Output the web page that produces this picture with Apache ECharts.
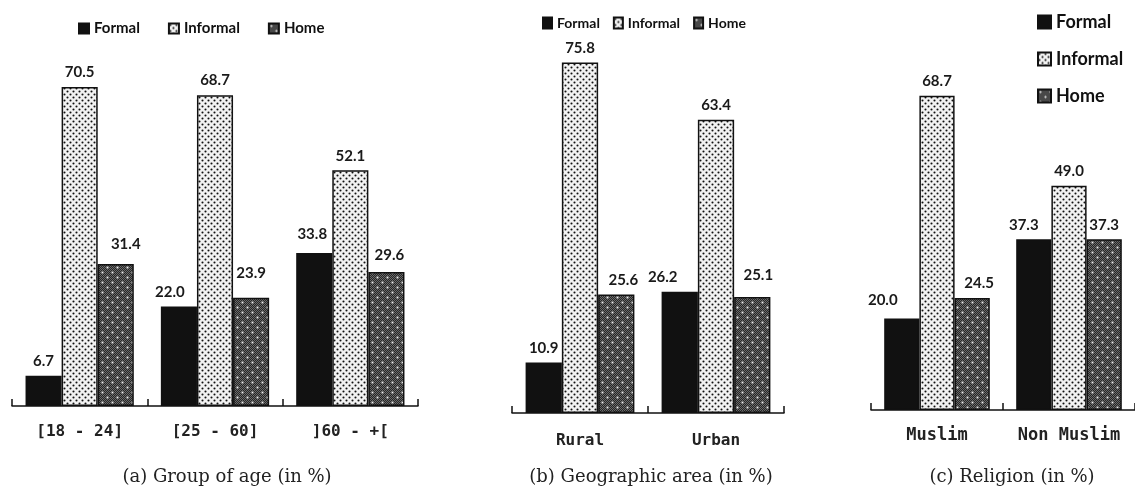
<!DOCTYPE html>
<html>
<head>
<meta charset="utf-8">
<title>Work type by group</title>
<script src="https://cdn.jsdelivr.net/npm/echarts@6/dist/echarts.min.js"></script>
<style>
  html, body { margin: 0; padding: 0; background: #fff; }
  #main { width: 1135px; height: 491px; }
</style>
</head>
<body>
<div id="main"></div>
<script>
// (a) group of age
const ageCats = ['[18 - 24]', '[25 - 60]', ']60 - +[']
const ageFormal = [6.7, 22.0, 33.8]
const ageInformal = [70.5, 68.7, 52.1]
const ageHome = [31.4, 23.9, 29.6]

// (b) geographic area
const areaCats = ['Rural', 'Urban']
const areaFormal = [10.9, 26.2]
const areaInformal = [75.8, 63.4]
const areaHome = [25.6, 25.1]

// (c) religion
const relCats = ['Muslim', 'Non Muslim']
const relFormal = [20.0, 37.3]
const relInformal = [68.7, 49.0]
const relHome = [24.5, 37.3]

const seriesNames = ['Formal', 'Informal', 'Home']
const captions = ['(a) Group of age (in %)', '(b) Geographic area (in %)', '(c) Religion (in %)']

// hand placed value labels in the original: panel-series-index -> [dx, dy]
const labelShift = {
  '0-2-0': [10, -5],
  '0-0-1': [-9, 0],
  '0-2-1': [0, -10],
  '0-0-2': [-2, -4],
  '0-2-2': [3, -2],
  '1-2-0': [7, 0],
  '1-0-1': [-17, 0],
  '1-2-1': [6, -7],
  '2-0-0': [-19, -4],
  '2-2-0': [7, 0],
  '2-0-1': [-10, 0]
}

// fill patterns like the old excel bars
function lightDots () {
  const c = document.createElement('canvas')
  c.width = 6
  c.height = 6
  const ctx = c.getContext('2d')
  ctx.fillStyle = '#f2f2f2'
  ctx.fillRect(0, 0, 6, 6)
  ctx.fillStyle = '#111'
  ctx.beginPath()
  ctx.arc(1.5, 1.5, 1.05, 0, Math.PI * 2)
  ctx.arc(4.5, 4.5, 1.05, 0, Math.PI * 2)
  ctx.fill()
  return c
}

function darkDots () {
  const c = document.createElement('canvas')
  c.width = 10
  c.height = 10
  const ctx = c.getContext('2d')
  for (let x = 0; x < 10; x++) {
    for (let y = 0; y < 10; y++) {
      ctx.fillStyle = (x + y) % 2 ? '#262626' : '#6a6a6a'
      ctx.fillRect(x, y, 1, 1)
    }
  }
  ctx.fillStyle = '#f4f4f4'
  ctx.beginPath()
  ctx.arc(2.5, 2.5, 1, 0, Math.PI * 2)
  ctx.arc(7.5, 7.5, 1, 0, Math.PI * 2)
  ctx.fill()
  return c
}

const fills = ['#111', { image: lightDots(), repeat: 'repeat' }, { image: darkDots(), repeat: 'repeat' }]

const panels = [
  { cats: ageCats, values: [ageFormal, ageInformal, ageHome], grid: { left: 12, width: 406, top: 44, height: 362 }, labelSize: 16, margin: 18, cx: 222 },
  { cats: areaCats, values: [areaFormal, areaInformal, areaHome], grid: { left: 512, width: 272, top: 43, height: 370 }, labelSize: 16, margin: 20, cx: 646 },
  { cats: relCats, values: [relFormal, relInformal, relHome], grid: { left: 871, width: 272, top: 44, height: 366 }, labelSize: 17, margin: 17, cx: 1007 }
]

const myChart = echarts.init(document.getElementById('main'))

const grid = []
const xAxis = []
const yAxis = []
const series = []
const title = []

panels.forEach((p, i) => {
  grid.push(p.grid)
  xAxis.push({
    type: 'category',
    gridIndex: i,
    data: p.cats,
    axisLine: { lineStyle: { color: '#111', width: 1.5 } },
    axisTick: { show: true, inside: true, alignWithLabel: false, interval: 0, length: 7, lineStyle: { color: '#111', width: 1.5 } },
    axisLabel: {
      interval: 0,
      showMinLabel: true,
      showMaxLabel: true,
      hideOverlap: false,
      margin: p.margin,
      color: '#222',
      fontFamily: 'DejaVu Sans Mono',
      fontWeight: 'bold',
      fontSize: p.labelSize
    }
  })
  yAxis.push({
    type: 'value',
    gridIndex: i,
    min: 0,
    max: 80,
    show: false
  })
  p.values.forEach((vals, k) => {
    series.push({
      name: seriesNames[k],
      type: 'bar',
      xAxisIndex: i,
      yAxisIndex: i,
      data: vals.map((v, j) => {
        const shift = labelShift[i + '-' + k + '-' + j]
        return shift ? { value: v, label: { offset: shift } } : v
      }),
      barGap: '0%',
      barCategoryGap: '20%',
      itemStyle: { color: fills[k], borderColor: '#111', borderWidth: 1.5 },
      label: {
        show: true,
        position: 'top',
        distance: 7,
        color: '#1a1a1a',
        fontFamily: 'Lato',
        fontWeight: 'bold',
        fontSize: 15,
        formatter: d => d.value.toFixed(1)
      }
    })
  })
  title.push({
    text: captions[i],
    left: p.cx,
    top: 463,
    textAlign: 'center',
    textStyle: { fontFamily: 'DejaVu Serif', fontWeight: 'normal', fontSize: 18, color: '#222' }
  })
})

const option = {
  animation: false,
  title: title,
  legend: [
    {
      data: seriesNames,
      icon: 'rect',
      left: 73,
      top: 16,
      itemWidth: 10,
      itemHeight: 10,
      itemGap: 28,
      textStyle: { fontFamily: 'Lato', fontWeight: 'bold', fontSize: 15, color: '#111' }
    },
    {
      data: seriesNames,
      icon: 'rect',
      left: 537,
      top: 11,
      itemWidth: 9,
      itemHeight: 11,
      itemGap: 13,
      textStyle: { fontFamily: 'Lato', fontWeight: 'bold', fontSize: 14, color: '#111' }
    },
    {
      data: seriesNames,
      icon: 'rect',
      orient: 'vertical',
      left: 1032,
      top: 8,
      itemWidth: 13,
      itemHeight: 13,
      itemGap: 19,
      textStyle: { fontFamily: 'Lato', fontWeight: 'bold', fontSize: 18, color: '#111' }
    }
  ],
  grid: grid,
  xAxis: xAxis,
  yAxis: yAxis,
  series: series
}

myChart.setOption(option)
</script>
</body>
</html>
